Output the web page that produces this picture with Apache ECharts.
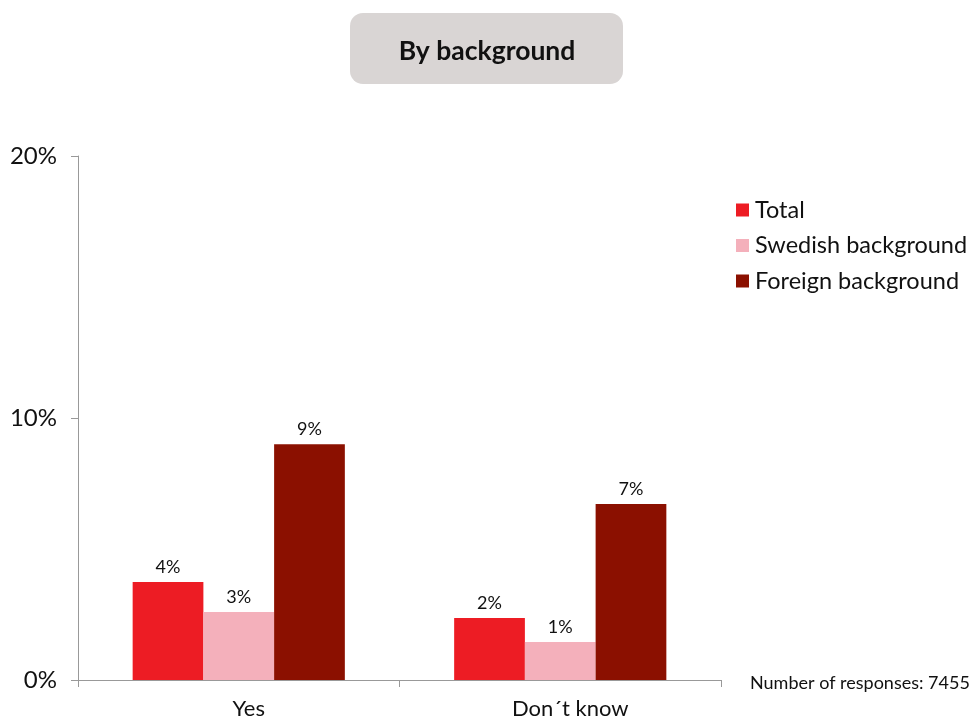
<!DOCTYPE html>
<html><head><meta charset="utf-8">
<script src="https://cdn.jsdelivr.net/npm/echarts@6/dist/echarts.min.js"></script>
<style>html,body{margin:0;padding:0;background:#fff}#c{width:977px;height:717px}</style>
</head><body><div id="c"></div>
<script>
var categories = ['Yes', 'Don\u00b4t know'];
var seriesNames = ['Total', 'Swedish background', 'Foreign background'];
var totalValues = [3.74, 2.37];
var swedishValues = [2.6, 1.45];
var foreignValues = [9.0, 6.72];
var yTicks = [0, 10, 20];
var colors = ['#ed1c24', '#f4b0bb', '#8b1000'];
var FONT = 'Lato, "DejaVu Sans", sans-serif';

var chart = echarts.init(document.getElementById('c'));
function mk(name, data, color) {
  return {
    name: name, type: 'bar', data: data, barGap: '0%', barCategoryGap: '34%',
    itemStyle: {color: color},
    label: {show: true, position: 'top', distance: 6, color: '#111', fontFamily: FONT, fontSize: 18,
      formatter: function (p) { return Math.round(p.value) + '%'; }}
  };
}
chart.setOption({
  animation: false,
  graphic: [
    {type: 'rect', left: 350, top: 13, shape: {width: 273, height: 71, r: 13}, style: {fill: '#d9d5d4'}},
    {type: 'text', x: 487, y: 51, style: {text: 'By background', font: 'bold 26.5px ' + FONT, fill: '#111', align: 'center', verticalAlign: 'middle'}},
    {type: 'text', x: 750, y: 683, style: {text: 'Number of responses: 7455', font: '18px ' + FONT, fill: '#111', verticalAlign: 'middle'}}
  ],
  legend: {
    orient: 'vertical', left: 731, top: 193, itemWidth: 13, itemHeight: 13, itemGap: 11.5,
    icon: 'rect', textStyle: {fontFamily: FONT, fontSize: 23.5, lineHeight: 24, color: '#111', padding: [0, 0, 0, 1]},
    data: seriesNames
  },
  grid: {left: 78, right: 256, top: 156, bottom: 37, containLabel: false, outerBoundsMode: 'none'},
  xAxis: {
    type: 'category', data: categories,
    axisLine: {lineStyle: {color: '#999'}},
    axisTick: {show: true, length: 7, lineStyle: {color: '#999'}},
    axisLabel: {fontFamily: FONT, fontSize: 22, color: '#111', margin: 18, padding: [0, 0, 0, 20]}
  },
  yAxis: {
    type: 'value', min: yTicks[0], max: yTicks[yTicks.length - 1], interval: 10,
    axisLine: {show: true, lineStyle: {color: '#999'}},
    axisTick: {show: true, length: 7, lineStyle: {color: '#999'}},
    splitLine: {show: false},
    axisLabel: {fontFamily: FONT, fontSize: 24, color: '#111', margin: 21, formatter: '{value}%'}
  },
  series: [
    mk(seriesNames[0], totalValues, colors[0]),
    mk(seriesNames[1], swedishValues, colors[1]),
    mk(seriesNames[2], foreignValues, colors[2])
  ]
});
</script></body></html>
